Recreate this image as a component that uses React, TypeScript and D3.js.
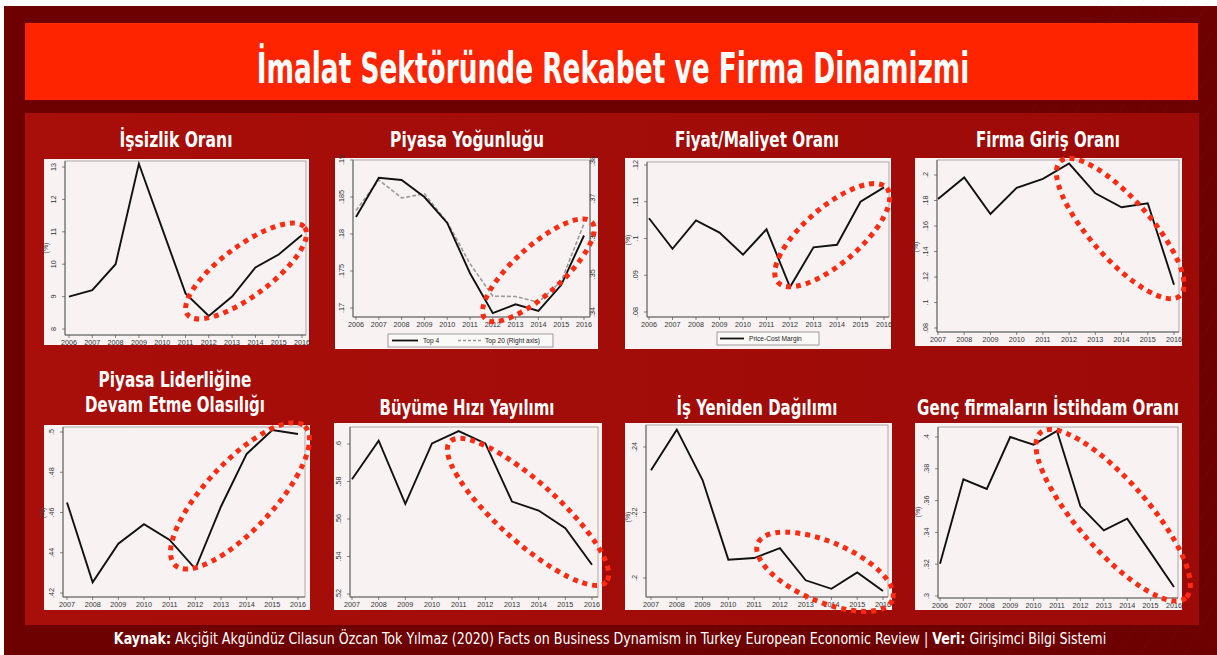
import React, { useLayoutEffect, useRef, useState } from "react";
import * as d3 from "d3";

// years
const years06 = [2006, 2007, 2008, 2009, 2010, 2011, 2012, 2013, 2014, 2015, 2016];
const years07 = [2007, 2008, 2009, 2010, 2011, 2012, 2013, 2014, 2015, 2016];

// series
const unemployment = [9.0, 9.2, 10.0, 13.1, 11.1, 9.1, 8.4, 9.0, 9.9, 10.3, 10.9];
const top4 = [0.1823, 0.1876, 0.1873, 0.185, 0.1815, 0.1747, 0.1693, 0.1705, 0.1696, 0.1731, 0.1798];
const top20 = [0.3669, 0.375, 0.3702, 0.3713, 0.3638, 0.3528, 0.3442, 0.3441, 0.3426, 0.3481, 0.3634];
const priceCost = [0.1055, 0.0972, 0.1049, 0.1016, 0.0956, 0.1025, 0.0868, 0.0976, 0.0983, 0.11, 0.1139];
const entryRate = [0.1812, 0.1981, 0.1694, 0.19, 0.197, 0.209, 0.1856, 0.1747, 0.1778, 0.1139];
const leaderPersist = [0.465, 0.4253, 0.4445, 0.4542, 0.4464, 0.432, 0.463, 0.4891, 0.501, 0.499];
const growthDisp = [0.5812, 0.6018, 0.5681, 0.6003, 0.6069, 0.6003, 0.5693, 0.5645, 0.5551, 0.5356];
const realloc = [0.2329, 0.2453, 0.2299, 0.2056, 0.2061, 0.2091, 0.1993, 0.1967, 0.2017, 0.196];
const youngEmp = [0.3203, 0.3734, 0.3673, 0.4, 0.3952, 0.4038, 0.3564, 0.3413, 0.3486, 0.3273, 0.3057];

// y tick labels
const ticksUnemp = [8, 9, 10, 11, 12, 13];
const ticksTop4 = [0.17, 0.175, 0.18, 0.185, 0.19];
const ticksTop20 = [0.34, 0.35, 0.36, 0.37, 0.38];
const ticksPcm = [0.08, 0.09, 0.1, 0.11, 0.12];
const ticksEntry = [0.08, 0.1, 0.12, 0.14, 0.16, 0.18, 0.2];
const ticksLeader = [0.42, 0.44, 0.46, 0.48, 0.5];
const ticksGrowth = [0.52, 0.54, 0.56, 0.58, 0.6];
const ticksRealloc = [0.2, 0.22, 0.24];
const ticksYoung = [0.3, 0.32, 0.34, 0.36, 0.38, 0.4];

// highlight ellipses: centre in data units
const highlights = [
  { cx: 2013.6, cy: 9.79, rx: 73, ry: 25, angle: -36.6 },
  { cx: 2014.0, cy: 0.1751, rx: 72, ry: 24, angle: -42 },
  { cx: 2013.8, cy: 0.1009, rx: 72, ry: 28, angle: -40.8 },
  { cx: 2013.95, cy: 0.158, rx: 90, ry: 30, angle: 48.4 },
  { cx: 2013.74, cy: 0.4683, rx: 95, ry: 34, angle: -46.9 },
  { cx: 2013.6, cy: 0.5638, rx: 105, ry: 30, angle: 41.9 },
  { cx: 2013.75, cy: 0.2019, rx: 73, ry: 30, angle: 22.9 },
  { cx: 2013.4, cy: 0.3508, rx: 110, ry: 35, angle: 48.7 },
];

const panelTitles = [
  ["İşsizlik Oranı"],
  ["Piyasa Yoğunluğu"],
  ["Fiyat/Maliyet Oranı"],
  ["Firma Giriş Oranı"],
  ["Piyasa Liderliğine", "Devam Etme Olasılığı"],
  ["Büyüme Hızı Yayılımı"],
  ["İş Yeniden Dağılımı"],
  ["Genç firmaların İstihdam Oranı"],
];

const COND = "'DejaVu Sans Condensed', 'Liberation Sans Narrow', 'Roboto', sans-serif";
const SANS = "'Liberation Sans', Arial, sans-serif";
const RED_DOT = "#ff2b12";

const fmt = (v: number) => String(+v.toFixed(4)).replace(/^0\./, ".");

// text squeezed horizontally to a given width (condensed look)
const FitText: React.FC<{
  x: number; y: number; width: number; size: number; bold?: boolean; children: React.ReactNode;
}> = ({ x, y, width, size, bold, children }) => {
  const ref = useRef<SVGTextElement>(null);
  const [sx, setSx] = useState(1);
  useLayoutEffect(() => {
    if (!ref.current) return;
    const len = ref.current.getComputedTextLength();
    if (len > 0) setSx(width / len);
  }, [width]);
  return (
    <g transform={`translate(${x},${y}) scale(${sx},1)`}>
      <text ref={ref} x={0} y={0} textAnchor="middle" fill="#fff" fontFamily={COND}
        fontWeight={bold ? "bold" : "normal"} fontSize={size}>
        {children}
      </text>
    </g>
  );
};

interface PanelCfg {
  box: [number, number, number, number];
  frame: { l: number; t: number; r: number; b: number };
  xs: [number, number];
  ys: [number, number];
  years: number[];
  values: number[];
  ticks: number[];
  title: { x: number; y: number; w: number[] };
  pct?: [number, number];
  legend?: { x: number; y: number; w: number };
  right?: { values: number[]; ticks: number[]; ys: [number, number] };
}

const panels: PanelCfg[] = [
  {
    box: [44, 159, 265, 186], frame: { l: 65, t: 161, r: 306, b: 335 },
    xs: [69, 302], ys: [329, 167], years: years06, values: unemployment, ticks: ticksUnemp,
    title: { x: 176, y: 147, w: [113] }, pct: [48, 248],
  },
  {
    box: [335, 158, 263, 191], frame: { l: 353, t: 160, r: 590, b: 317 },
    xs: [356, 584], ys: [308, 160], years: years06, values: top4, ticks: ticksTop4,
    title: { x: 467, y: 147, w: [154] },
    legend: { x: 388, y: 334, w: 165 },
    right: { values: top20, ticks: ticksTop20, ys: [312, 161] },
  },
  {
    box: [625, 158, 266, 191], frame: { l: 647, t: 162, r: 889, b: 317 },
    xs: [649, 884], ys: [312, 165], years: years06, values: priceCost, ticks: ticksPcm,
    title: { x: 757, y: 147, w: [164] }, pct: [630, 240],
    legend: { x: 717, y: 332, w: 102 },
  },
  {
    box: [915, 158, 267, 188], frame: { l: 937, t: 160, r: 1179, b: 332 },
    xs: [938, 1174], ys: [328, 175], years: years07, values: entryRate, ticks: ticksEntry,
    title: { x: 1048, y: 147, w: [144] }, pct: [918, 247],
  },
  {
    box: [44, 425, 266, 185], frame: { l: 63, t: 427, r: 305, b: 597 },
    xs: [67, 298], ys: [593, 432], years: years07, values: leaderPersist, ticks: ticksLeader,
    title: { x: 175, y: 387, w: [153, 180] }, pct: [45, 513],
  },
  {
    box: [334, 423, 268, 187], frame: { l: 350, t: 427, r: 598, b: 597 },
    xs: [352, 592], ys: [594, 444], years: years07, values: growthDisp, ticks: ticksGrowth,
    title: { x: 467, y: 415, w: [175] },
  },
  {
    box: [625, 423, 267, 187], frame: { l: 646, t: 425, r: 888, b: 597 },
    xs: [651, 883], ys: [578, 447], years: years07, values: realloc, ticks: ticksRealloc,
    title: { x: 757, y: 415, w: [161] }, pct: [630, 517],
  },
  {
    box: [915, 423, 267, 187], frame: { l: 938, t: 427, r: 1178, b: 598 },
    xs: [940, 1174], ys: [596, 437], years: years06, values: youngEmp, ticks: ticksYoung,
    title: { x: 1048, y: 415, w: [262] }, pct: [920, 512],
  },
];

const Panel: React.FC<{ cfg: PanelCfg; idx: number }> = ({ cfg, idx }) => {
  const { box, frame } = cfg;
  const x = d3.scaleLinear().domain([cfg.years[0], cfg.years[cfg.years.length - 1]]).range(cfg.xs);
  const y = d3.scaleLinear().domain([cfg.ticks[0], cfg.ticks[cfg.ticks.length - 1]]).range(cfg.ys);
  const line = d3.line<number>().x((_, i) => x(cfg.years[i])).y((d) => y(d));
  const yR = cfg.right
    ? d3.scaleLinear().domain([cfg.right.ticks[0], cfg.right.ticks[cfg.right.ticks.length - 1]]).range(cfg.right.ys)
    : null;
  const lineR = yR ? d3.line<number>().x((_, i) => x(cfg.years[i])).y((d) => yR(d)) : null;
  const hl = highlights[idx];
  const ex = x(hl.cx);
  const ey = y(hl.cy);
  const titles = panelTitles[idx];

  return (
    <g>
      {titles.map((t, i) => (
        <FitText key={t} x={cfg.title.x} y={cfg.title.y + i * 25} width={cfg.title.w[i]} size={22} bold>
          {t}
        </FitText>
      ))}
      <rect x={box[0]} y={box[1]} width={box[2]} height={box[3]} fill="#f8f2f3" />
      <rect x={frame.l} y={frame.t} width={frame.r - frame.l} height={frame.b - frame.t}
        fill="none" stroke="#9a9a9a" strokeWidth={0.8} />
      <line x1={frame.l} x2={frame.l} y1={frame.t} y2={frame.b} stroke="#555" strokeWidth={0.9} />
      <line x1={frame.l} x2={frame.r} y1={frame.b} y2={frame.b} stroke="#555" strokeWidth={0.9} />
      {cfg.years.map((yr) => (
        <g key={yr}>
          <line x1={x(yr)} x2={x(yr)} y1={frame.b} y2={frame.b + 3} stroke="#555" strokeWidth={0.7} />
          <text x={x(yr)} y={frame.b + 10} textAnchor="middle" fontSize={7.2} fill="#333" fontFamily={SANS}>{yr}</text>
        </g>
      ))}
      {cfg.ticks.map((t) => (
        <g key={t}>
          <line x1={frame.l - 3} x2={frame.l} y1={y(t)} y2={y(t)} stroke="#555" strokeWidth={0.7} />
          <text transform={`translate(${frame.l - 9},${y(t)}) rotate(-90)`} textAnchor="middle"
            fontSize={7.2} fill="#333" fontFamily={SANS}>{fmt(t)}</text>
        </g>
      ))}
      {cfg.right && yR &&
        cfg.right.ticks.map((t) => (
          <g key={"r" + t}>
            <line x1={frame.r} x2={frame.r + 3} y1={yR(t)} y2={yR(t)} stroke="#555" strokeWidth={0.7} />
            <text transform={`translate(${frame.r + 5},${yR(t)}) rotate(-90)`} textAnchor="middle"
              fontSize={7.2} fill="#333" fontFamily={SANS}>{fmt(t)}</text>
          </g>
        ))}
      {cfg.right && <line x1={frame.r} x2={frame.r} y1={frame.t} y2={frame.b} stroke="#555" strokeWidth={0.9} />}
      {cfg.pct && (
        <text transform={`translate(${cfg.pct[0]},${cfg.pct[1]}) rotate(-90)`} textAnchor="middle"
          fontSize={7} fill="#444" fontFamily={SANS}>(%)</text>
      )}
      {lineR && cfg.right && (
        <path d={lineR(cfg.right.values) || ""} fill="none" stroke="#9a9a9a" strokeWidth={1.6} strokeDasharray="4 2" />
      )}
      <path d={line(cfg.values) || ""} fill="none" stroke="#111" strokeWidth={1.9} strokeLinejoin="miter" />
      {cfg.legend && (
        <g>
          <rect x={cfg.legend.x} y={cfg.legend.y} width={cfg.legend.w} height={13} fill="#fbf8f8" stroke="#777" strokeWidth={0.7} />
          {cfg.right ? (
            <g fontFamily={SANS} fontSize={6.6} fill="#222">
              <line x1={cfg.legend.x + 4} x2={cfg.legend.x + 30} y1={cfg.legend.y + 6.5} y2={cfg.legend.y + 6.5} stroke="#111" strokeWidth={1.8} />
              <text x={cfg.legend.x + 35} y={cfg.legend.y + 9}>Top 4</text>
              <line x1={cfg.legend.x + 70} x2={cfg.legend.x + 94} y1={cfg.legend.y + 6.5} y2={cfg.legend.y + 6.5} stroke="#999" strokeWidth={1.4} strokeDasharray="3 2" />
              <text x={cfg.legend.x + 97} y={cfg.legend.y + 9}>Top 20 (Right axis)</text>
            </g>
          ) : (
            <g fontFamily={SANS} fontSize={6.6} fill="#222">
              <line x1={cfg.legend.x + 3} x2={cfg.legend.x + 27} y1={cfg.legend.y + 6.5} y2={cfg.legend.y + 6.5} stroke="#111" strokeWidth={1.8} />
              <text x={cfg.legend.x + 32} y={cfg.legend.y + 9}>Price-Cost Margin</text>
            </g>
          )}
        </g>
      )}
      <ellipse cx={ex} cy={ey} rx={hl.rx} ry={hl.ry} transform={`rotate(${hl.angle} ${ex} ${ey})`}
        fill="none" stroke={RED_DOT} strokeWidth={5} strokeDasharray="5 5" />
    </g>
  );
};

export default function App() {
  const W = 1217;
  const H = 655;
  const streaks = d3.range(0, 26);
  return (
    <svg width={W} height={H} style={{ position: "absolute", left: 0, top: 0, display: "block" }}>
      <defs>
        <linearGradient id="panelBg" x1="0" x2="1" y1="0" y2="0">
          <stop offset="0" stopColor="#a80e0a" />
          <stop offset="1" stopColor="#9c0a07" />
        </linearGradient>
      </defs>
      <rect x={0} y={0} width={W} height={H} fill="#ffffff" />
      <rect x={4} y={6} width={W - 4} height={H - 6} fill="#6d0101" />
      {streaks.map((i) => (
        <line key={i} x1={700 + i * 22} y1={655} x2={1100 + i * 22} y2={0}
          stroke="#ff3b2b" strokeOpacity={0.05} strokeWidth={1.2} />
      ))}
      <rect x={25} y={23} width={1173} height={77} fill="#ff2400" />
      <FitText x={613} y={83} width={713} size={43} bold>
        İmalat Sektöründe Rekabet ve Firma Dinamizmi
      </FitText>
      <rect x={25} y={113} width={1174} height={512} fill="url(#panelBg)" />
      {panels.map((p, i) => (
        <Panel key={i} cfg={p} idx={i} />
      ))}
      <FitText x={610} y={644} width={993} size={16}>
        <tspan fontWeight="bold">Kaynak:</tspan>
        <tspan> Akçiğit  Akgündüz Cilasun Özcan Tok Yılmaz (2020) Facts on Business Dynamism in Turkey European Economic Review | </tspan>
        <tspan fontWeight="bold">Veri:</tspan>
        <tspan> Girişimci Bilgi Sistemi</tspan>
      </FitText>
    </svg>
  );
}
